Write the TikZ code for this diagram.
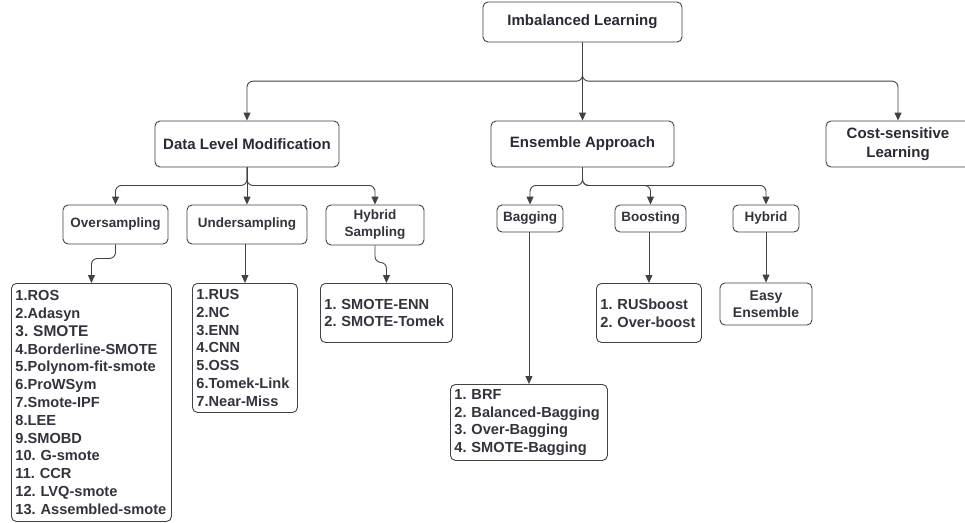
\documentclass[tikz,border=0pt]{standalone}
\usepackage{fontspec}
\setmainfont{Liberation Sans}
\frenchspacing
\usetikzlibrary{arrows.meta,positioning}
\definecolor{ink}{HTML}{33333D}
\definecolor{headink}{HTML}{2A2A36}
\definecolor{edge}{HTML}{424242}

\begin{document}
\begin{tikzpicture}[x=1pt,y=-1pt,
  box/.style={draw=edge, line width=0.9pt, rounded corners=5pt, text=ink, align=center, inner sep=0pt},
  head/.style={box, text=headink, font=\bfseries\fontsize{15}{19}\selectfont},
  sub/.style={box, font=\bfseries\fontsize{13.5}{17}\selectfont},
  list/.style={box, anchor=north west, font=\bfseries\fontsize{14.6}{17.8}\selectfont, align=left, inner xsep=4pt},
  link/.style={draw=edge, line width=0.9pt, -{Triangle[length=8pt,width=7pt]}, rounded corners=6pt}]
  \useasboundingbox (0,0) rectangle (965,522);

  % top levels
  \node[head, minimum width=199, minimum height=40] (root) at (582.5,22) {Imbalanced Learning};
  \node[head, minimum width=184, minimum height=46] (dlm) at (247,144) {Data Level Modification};
  \node[head, minimum width=183, minimum height=46] (ea) at (582.5,144) {Ensemble Approach};
  \node[head, minimum width=144, minimum height=46] (cs) at (898,144) {Cost-sensitive\\Learning};

  % data level branch
  \node[sub, minimum width=105, minimum height=39] (os) at (115.5,224.5) {Oversampling};
  \node[sub, minimum width=120, minimum height=39] (us) at (247,224.5) {Undersampling};
  \node[sub, minimum width=98, minimum height=40] (hs) at (375,225) {Hybrid\\Sampling};

  \node[list, text width=152, minimum height=238] (osl) at (11,283) {1.ROS\\2.Adasyn\\{\fontsize{15.5}{17.8}\selectfont 3. SMOTE}\\4.Borderline-SMOTE\\5.Polynom-fit-smote\\6.ProWSym\\7.Smote-IPF\\8.LEE\\9.SMOBD\\10. G-smote\\11. CCR\\12. LVQ-smote\\13. Assembled-smote};
  \node[list, text width=97, minimum height=129] (usl) at (192,283) {1.RUS\\2.NC\\3.ENN\\4.CNN\\5.OSS\\6.Tomek-Link\\7.Near-Miss};
  \node[list, text width=124, minimum height=59] (hsl) at (320,283) {1. SMOTE-ENN\\2. SMOTE-Tomek};

  % ensemble branch
  \node[sub, minimum width=66, minimum height=27] (bag) at (530,218.5) {Bagging};
  \node[sub, minimum width=71, minimum height=27] (boo) at (650.5,218.5) {Boosting};
  \node[sub, minimum width=66, minimum height=27] (hyb) at (766,218.5) {Hybrid};

  \node[list, text width=149, minimum height=76] (bagl) at (450,384) {1. BRF\\2. Balanced-Bagging\\3. Over-Bagging\\4. SMOTE-Bagging};
  \node[list, text width=97, minimum height=59] (bool) at (596,283) {1. RUSboost\\2. Over-boost};
  \node[sub, font=\bfseries\fontsize{14}{16.7}\selectfont, minimum width=92, minimum height=42] (easy) at (766,304) {Easy\\Ensemble};

  % connectors
  \draw[link] (root.south) -- ++(0,38.7) -| (dlm.north);
  \draw[link] (root.south) -- (ea.north);
  \draw[link] (root.south) -- ++(0,38.7) -| (cs.north);

  \draw[link] (dlm.south) -- ++(0,18) -| (os.north);
  \draw[link] (dlm.south) -- (us.north);
  \draw[link] (dlm.south) -- ++(0,18) -| (hs.north);
  \draw[link] (os.south) -- ++(0,14) -| (osl.north);
  \draw[link] (us.south -| usl.north) -- (usl.north);
  \draw[link] (hs.south) -- ++(0,17) -| (hsl.north);

  \draw[link] (ea.south) -- ++(0,18) -| (bag.north);
  \draw[link] (ea.south) -- ++(0,18) -| (boo.north);
  \draw[link] (ea.south) -- ++(0,18) -| (hyb.north);
  \draw[link] (bag.south -| bagl.north) -- (bagl.north);
  \draw[link] (boo.south -| bool.north) -- (bool.north);
  \draw[link] (hyb.south) -- (easy.north);
\end{tikzpicture}
\end{document}
